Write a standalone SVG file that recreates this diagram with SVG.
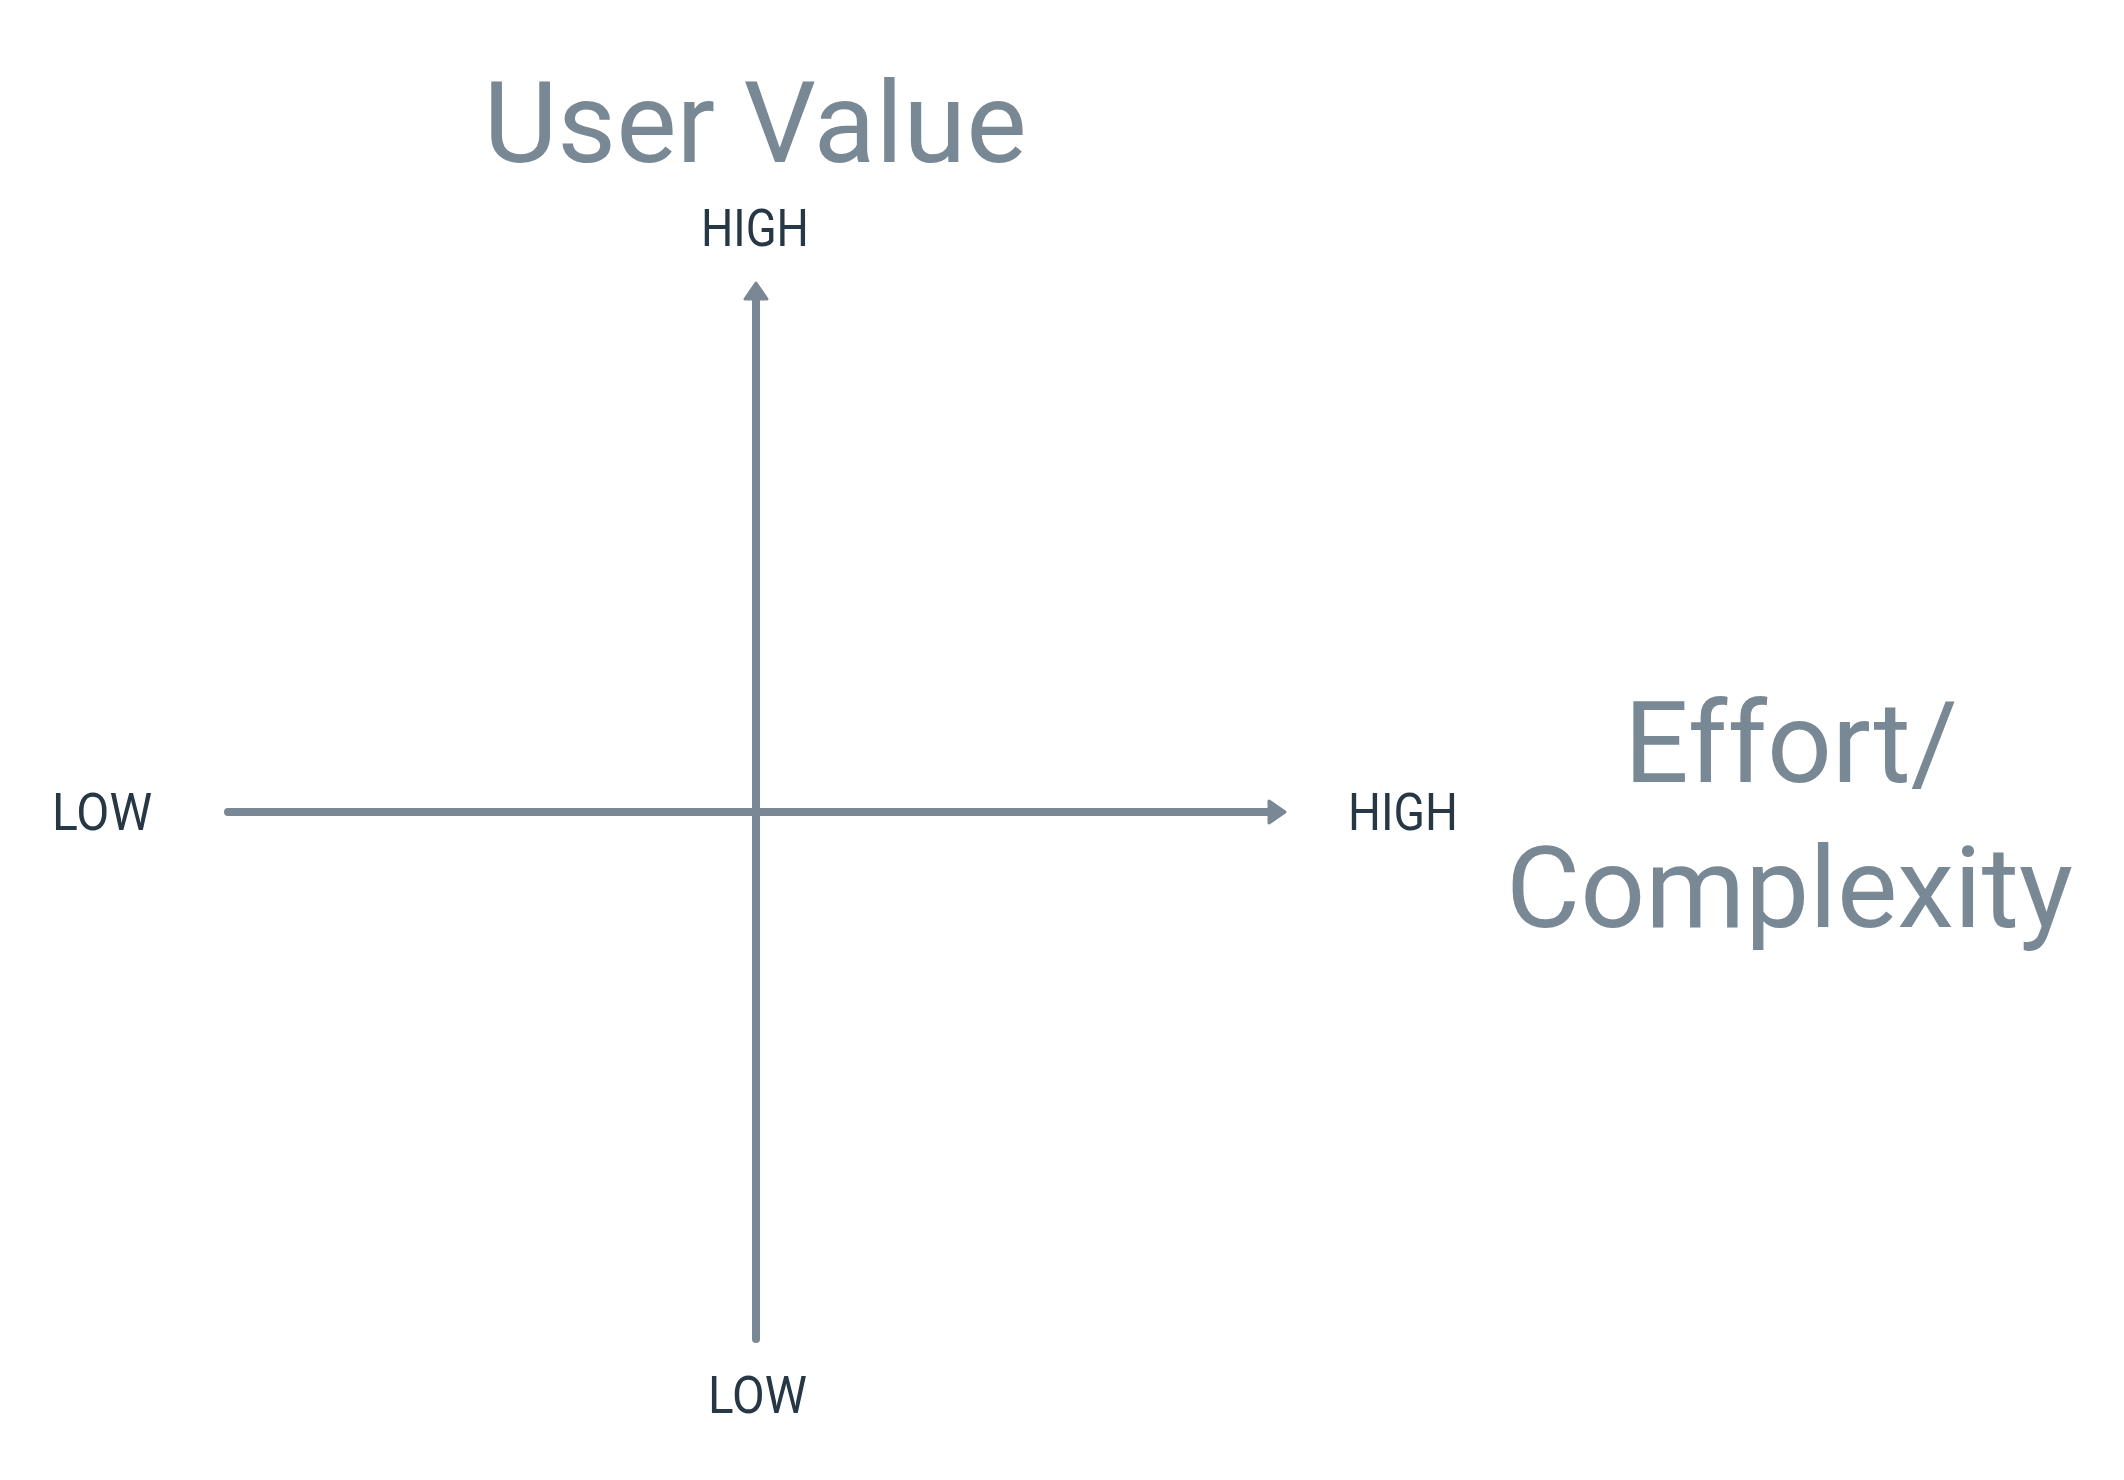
<svg xmlns="http://www.w3.org/2000/svg" width="2124" height="1480" viewBox="0 0 2124 1480">
  <style>
    .title { font-family: Roboto, "DejaVu Sans", sans-serif; font-size: 114px; fill: #798895; }
    .label { font-family: Roboto, "DejaVu Sans", sans-serif; font-size: 52px; fill: #263746; }
    .axis { stroke: #7a8794; stroke-width: 8; stroke-linecap: round; fill: none; }
  </style>
  <defs>
    <marker id="arrow" markerUnits="userSpaceOnUse" viewBox="0 0 22 28" markerWidth="22" markerHeight="28" refX="6" refY="14" orient="auto">
      <path d="M3,3 L19,14 L3,25 Z" fill="#7a8794" stroke="#7a8794" stroke-width="3" stroke-linejoin="round"/>
    </marker>
  </defs>
  <rect width="2124" height="1480" fill="#ffffff"/>
  <g id="connectors">
    <line class="axis" x1="228" y1="812" x2="1272" y2="812" marker-end="url(#arrow)"/>
    <line class="axis" x1="756" y1="1339" x2="756" y2="296" marker-end="url(#arrow)"/>
  </g>
  <g id="title-user-value">
    <text class="title" x="755" y="162" text-anchor="middle">User Value</text>
  </g>
  <g id="title-effort">
    <text class="title" x="1624" y="782">Effort/</text>
    <text class="title" x="1506" y="927">Complexity</text>
  </g>
  <g id="label-high-top">
    <text class="label" x="701" y="246" textLength="108" lengthAdjust="spacingAndGlyphs">HIGH</text>
  </g>
  <g id="label-low-bottom">
    <text class="label" x="708" y="1413" textLength="99" lengthAdjust="spacingAndGlyphs">LOW</text>
  </g>
  <g id="label-low-left">
    <text class="label" x="52" y="830" textLength="100" lengthAdjust="spacingAndGlyphs">LOW</text>
  </g>
  <g id="label-high-right">
    <text class="label" x="1348" y="830" textLength="110" lengthAdjust="spacingAndGlyphs">HIGH</text>
  </g>
</svg>
